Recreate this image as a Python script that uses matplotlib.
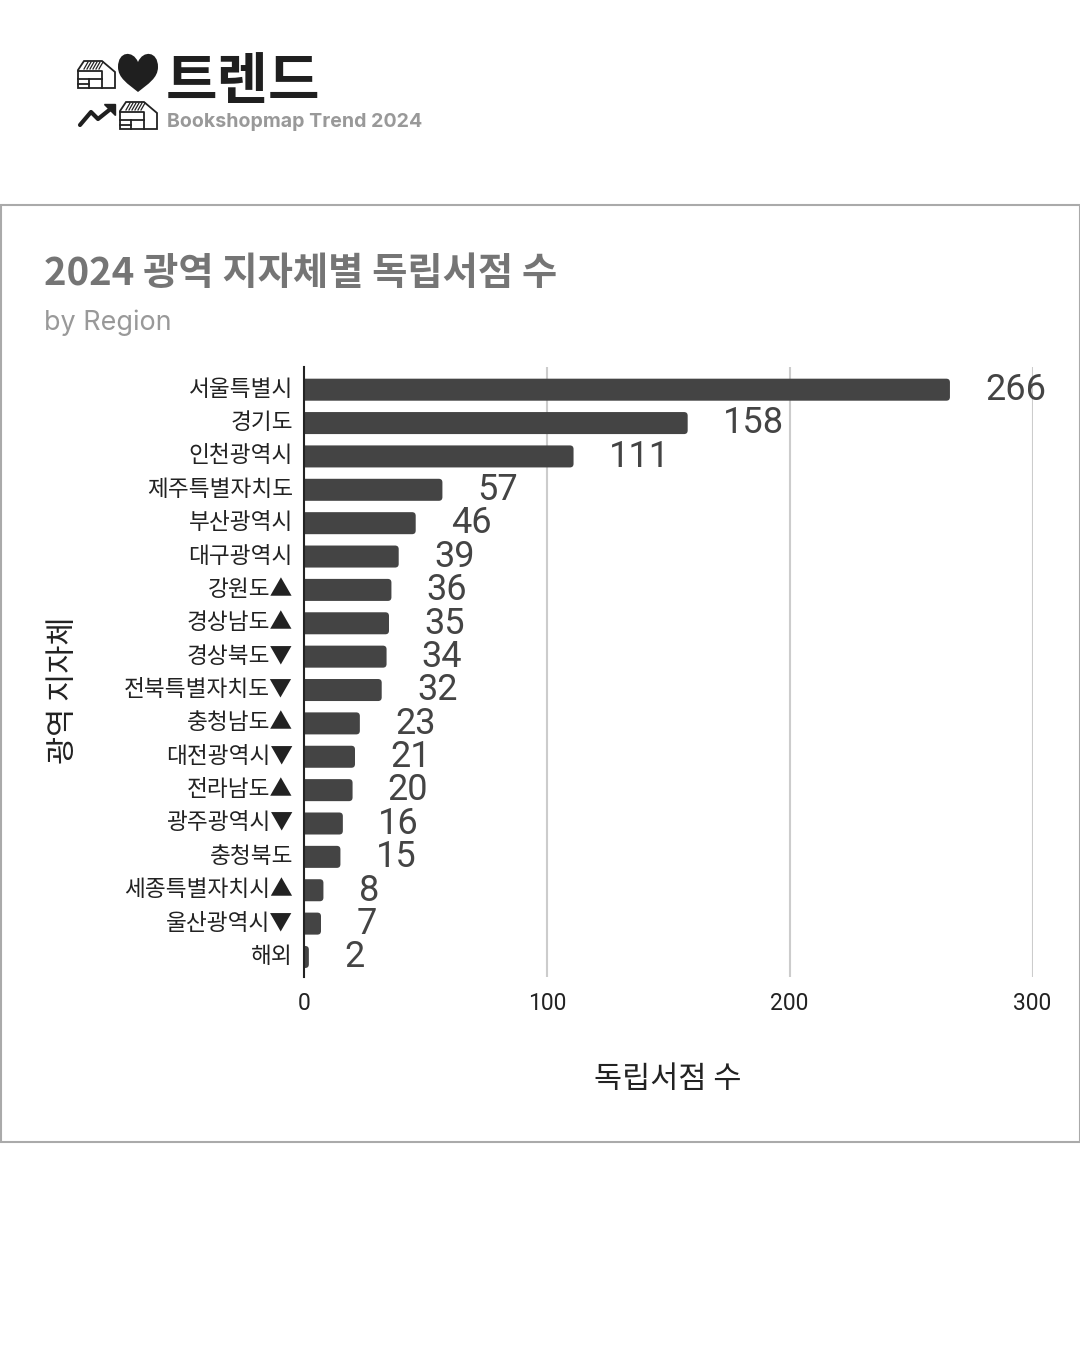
"""Independent bookshops per region, 2024."""

import matplotlib
matplotlib.use("Agg")
import matplotlib.pyplot as plt
from matplotlib.patches import FancyBboxPatch, Polygon, Rectangle, PathPatch
from matplotlib.path import Path
from matplotlib.transforms import ScaledTranslation

KR = ['Noto Sans CJK KR', 'DejaVu Sans']

regions = ['서울특별시', '경기도', '인천광역시', '제주특별자치도', '부산광역시', '대구광역시',
           '강원도▲', '경상남도▲', '경상북도▼', '전북특별자치도▼', '충청남도▲', '대전광역시▼',
           '전라남도▲', '광주광역시▼', '충청북도', '세종특별자치시▲', '울산광역시▼', '해외']
counts = [266, 158, 111, 57, 46, 39, 36, 35, 34, 32, 23, 21, 20, 16, 15, 8, 7, 2]
xticks = [0, 100, 200, 300]

W, H = 1080, 1350
DARK = '#444444'


def draw_house(bg, x, y):
    """Little bookshop icon, x/y = top left in pixels."""
    lw = 1.3
    c = '#222222'
    bg.add_patch(Polygon([(x, y + 9), (x + 6, y), (x + 24, y), (x + 37, y + 11),
                          (x + 37, y + 27), (x, y + 27)],
                         closed=True, fc='white', ec=c, lw=lw))
    # slanted roof stripes
    for i in range(6):
        dx = 6 + i * 3
        bg.plot([x + dx, x + dx + 4], [y + 8, y + 1], color=c, lw=0.9)
    bg.plot([x, x + 24, x + 24], [y + 10, y + 10, y + 27], color=c, lw=lw)
    bg.plot([x, x + 24], [y + 18, y + 18], color=c, lw=lw)
    bg.plot([x + 11, x + 11], [y + 18, y + 27], color=c, lw=lw)
    bg.plot([x, x + 11], [y + 22.5, y + 22.5], color=c, lw=lw)


def draw_header(bg):
    draw_house(bg, 78, 61)
    draw_house(bg, 120, 102)
    heart = Path([(138, 92), (128, 84), (118, 78), (118, 67), (118, 51), (133, 50), (138, 62),
                  (143, 50), (158, 51), (158, 67), (158, 78), (148, 84), (138, 92)],
                 [Path.MOVETO] + [Path.CURVE4] * 12)
    bg.add_patch(PathPatch(heart, fc='#1f1f1f', ec='none'))
    # trend arrow
    bg.plot([80, 91, 98, 113], [125, 112, 119, 107], color='#1f1f1f', lw=3, solid_capstyle='round')
    bg.add_patch(Polygon([(104, 104), (115, 104), (115, 115)], closed=True, fc='#1f1f1f', ec='#1f1f1f'))
    bg.text(166, 83, '트렌드', family=KR, fontsize=40.3, fontweight='black', color='#1f1f1f',
            ha='left', va='center')
    bg.text(167, 122, 'Bookshopmap Trend 2024', family='Inter', fontsize=14.1, fontweight='bold',
            color='#999999', ha='left', va='center')


fig = plt.figure(figsize=(W / 100, H / 100), dpi=100, facecolor='white')

bg = fig.add_axes([0, 0, 1, 1], zorder=0)
bg.set_xlim(0, W)
bg.set_ylim(H, 0)
bg.axis('off')
bg.add_patch(Rectangle((0.5, 205), W - 1, 937, fc='white', ec='#aaaaaa', lw=1.5))
draw_header(bg)

bg.text(44, 274, '2024 광역 지자체별 독립서점 수', family=KR, fontsize=27.6, fontweight='bold',
        color='#757575', ha='left', va='center')
bg.text(44, 323, 'by Region', family='Inter', fontsize=19.4, color='#999999', ha='left', va='center')
bg.text(668, 1080, '독립서점 수', family=KR, fontsize=22, fontweight='medium', color='#222222',
        ha='center', va='center')
bg.text(63, 690, '광역 지자체', family=KR, fontsize=22, fontweight='medium', color='#222222',
        rotation=90, ha='center', va='center')

# axes box: x 304..1032 px is 0..300, y 367..977 px holds the 18 rows
ax = fig.add_axes([304 / W, 1 - 977 / H, (1032.5 - 304) / W, (977 - 367) / H], zorder=1)
ax.patch.set_alpha(0)
ypos = list(range(len(regions)))
bars = ax.barh(ypos, counts, height=0.66, color=DARK, zorder=3)
ax.set_xlim(0, 300)
ax.set_ylim(len(regions) - 0.4, -0.68)

# round the bar ends, start left of the axis so only the right corners show
for rect in bars:
    rect.set_visible(False)
    ax.add_patch(FancyBboxPatch((rect.get_x() - 3, rect.get_y()), rect.get_width() + 3, rect.get_height(),
                                boxstyle='round,pad=0,rounding_size=1.5', mutation_aspect=0.0728,
                                fc=DARK, ec='none', zorder=3, clip_on=True))

ax.set_xticks(xticks)
ax.set_yticks(ypos)
ax.set_yticklabels(regions, family=KR, fontsize=16.3, color='#222222')
ax.tick_params(axis='y', length=0, pad=8)
ax.tick_params(axis='x', length=0, pad=11, labelsize=16.5, labelcolor='#222222')
for lab in ax.get_xticklabels():
    lab.set_family('Roboto')
# labels sit a little above the bar centre
shift = ScaledTranslation(0, 3 / 100, fig.dpi_scale_trans)
for lab in ax.get_yticklabels():
    lab.set_transform(lab.get_transform() + shift)
ax.grid(True, axis='x', color='#cccccc', lw=1.5, zorder=0)
ax.xaxis.get_gridlines()[0].set_visible(False)
for name in ['top', 'right', 'bottom']:
    ax.spines[name].set_visible(False)
ax.spines['left'].set_color('#222222')
ax.spines['left'].set_linewidth(1.5)
ax.spines['left'].set_zorder(4)

for y, v in zip(ypos, counts):
    ax.annotate(str(v), (v, y), xytext=(25.4, -0.2), textcoords='offset points', family='Roboto',
                fontsize=26, color=DARK, ha='left', va='center', zorder=5)

fig.savefig('out.png', dpi=100)
